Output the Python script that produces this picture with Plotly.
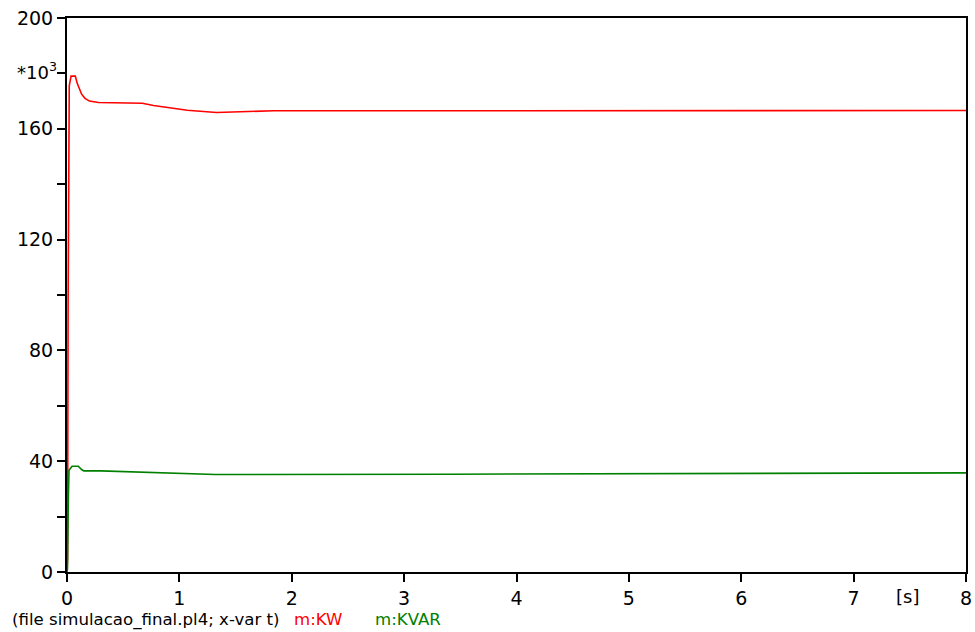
import plotly.graph_objects as go

# Time axis [s] and measured values (*10^3)
t_kw = [0, 0.005, 0.010, 0.016, 0.020, 0.036, 0.074, 0.09, 0.11, 0.13, 0.16, 0.20,
        0.28, 0.67, 0.77, 0.93, 1.07, 1.33, 1.84, 8.0]
kw = [0, 5, 99, 174, 175.5, 179, 179, 176.5, 174.5, 172.5, 171, 170,
      169.5, 169.2, 168.4, 167.5, 166.7, 165.9, 166.5, 166.6]

t_kvar = [0, 0.004, 0.012, 0.018, 0.045, 0.10, 0.13, 0.15, 0.30, 0.74, 1.0, 1.32,
          3.4, 5.4, 8.0]
kvar = [0, 1, 26.5, 36.7, 38.2, 38.2, 37.0, 36.5, 36.5, 35.9, 35.8, 35.2,
        35.3, 35.5, 35.8]

x_ticks = [0, 1, 2, 3, 4, 5, 6, 7, 8]
y_ticks = [0, 40, 80, 120, 160, 200]
y_minor_step = 20

FONT = "DejaVu Sans, Liberation Sans, Arial, sans-serif"

fig = go.Figure()
fig.add_trace(go.Scatter(x=t_kw, y=kw, mode="lines", name="m:KW",
                         line=dict(color="#ff0000", width=1.6)))
fig.add_trace(go.Scatter(x=t_kvar, y=kvar, mode="lines", name="m:KVAR",
                         line=dict(color="#008000", width=1.6)))

axis_common = dict(showgrid=False, zeroline=False, showline=True, linecolor="black",
                   linewidth=2, mirror=True, ticks="outside", ticklen=8,
                   tickwidth=1.5, tickcolor="black",
                   tickfont=dict(family=FONT, size=19, color="black"))

fig.update_layout(
    width=975, height=632,
    margin=dict(l=67, r=9, t=18, b=60, autoexpand=False),
    paper_bgcolor="white", plot_bgcolor="white",
    showlegend=False,
    xaxis=dict(range=[0, 8], tickvals=x_ticks, ticktext=[str(v) for v in x_ticks],
               automargin=False, **axis_common),
    yaxis=dict(range=[0, 200], tickvals=y_ticks, ticktext=[str(v) for v in y_ticks],
               minor=dict(dtick=y_minor_step, tick0=0, ticks="outside", ticklen=8,
                          tickwidth=1.5, tickcolor="black", showgrid=False),
               automargin=False, **axis_common),
    annotations=[
        dict(text="*10<sup>3</sup>", xref="paper", yref="paper", x=-0.009, y=0.905,
             xanchor="right", yanchor="middle", showarrow=False,
             font=dict(family=FONT, size=18, color="black")),
        dict(text="[s]", xref="x", yref="paper", x=7.48, y=-0.045,
             xanchor="center", yanchor="middle", showarrow=False,
             font=dict(family=FONT, size=18, color="black")),
        dict(text="(file simulacao_final.pl4; x-var t)", xref="paper", yref="paper",
             x=-0.0634, y=-0.0866, xanchor="left", yanchor="middle", showarrow=False,
             font=dict(family=FONT, size=16.6, color="black")),
        dict(text="m:KW", xref="paper", yref="paper", x=0.250, y=-0.0866,
             xanchor="left", yanchor="middle", showarrow=False,
             font=dict(family=FONT, size=16.6, color="#ff0000")),
        dict(text="m:KVAR", xref="paper", yref="paper", x=0.3404, y=-0.0866,
             xanchor="left", yanchor="middle", showarrow=False,
             font=dict(family=FONT, size=16.6, color="#008000")),
    ],
)

fig.write_html("out.html", config={"displayModeBar": False},
               post_script="document.body.style.margin='0';document.body.style.overflow='hidden';")
